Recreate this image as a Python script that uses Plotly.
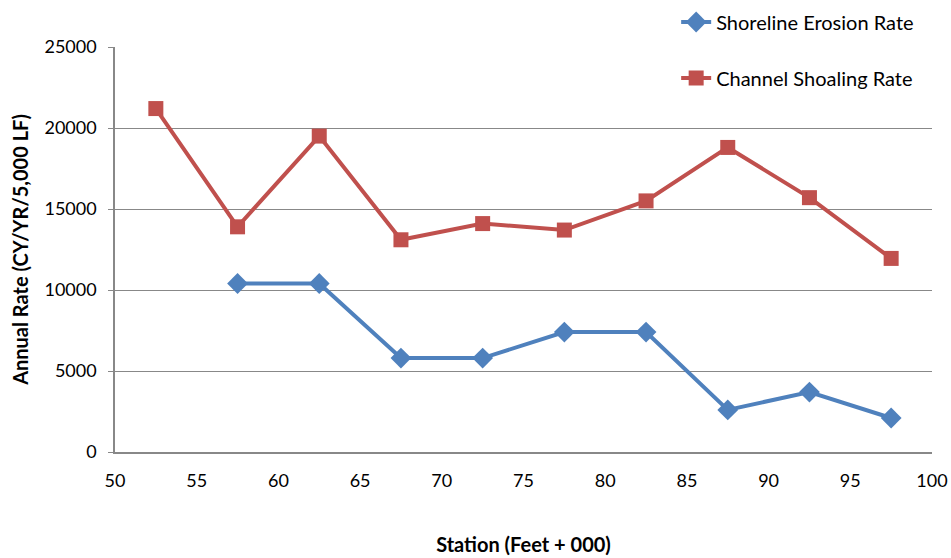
import plotly.graph_objects as go

stations = [52.5, 57.5, 62.5, 67.5, 72.5, 77.5, 82.5, 87.5, 92.5, 97.5]
shoaling = [21200, 13900, 19500, 13100, 14100, 13700, 15500, 18800, 15700, 11950]
erosion_x = [57.5, 62.5, 67.5, 72.5, 77.5, 82.5, 87.5, 92.5, 97.5]
erosion = [10400, 10400, 5800, 5800, 7400, 7400, 2600, 3700, 2100]

FONT = "Lato, Open Sans, Arial"

fig = go.Figure()
fig.add_trace(go.Scatter(x=erosion_x, y=erosion, mode="lines+markers",
                         name="Shoreline Erosion Rate",
                         line=dict(color="#4F81BD", width=4),
                         marker=dict(symbol="diamond", size=16, color="#4F81BD"),
                         legend="legend", showlegend=True))
fig.add_trace(go.Scatter(x=stations, y=shoaling, mode="lines+markers",
                         name="Channel Shoaling Rate",
                         line=dict(color="#C0504D", width=4),
                         marker=dict(symbol="square", size=15, color="#C0504D"),
                         legend="legend2", showlegend=True))

fig.update_layout(
    width=951, height=558, showlegend=True,
    margin=dict(l=115, r=19, t=47, b=106, autoexpand=False),
    paper_bgcolor="white", plot_bgcolor="white",
    font=dict(family=FONT, size=18, color="#000"),
    legend=dict(xref="container", yref="container", x=0.711, xanchor="left",
                y=1 - 22 / 558, yanchor="middle",
                bgcolor="rgba(0,0,0,0)", font=dict(size=20, family=FONT)),
    legend2=dict(xref="container", yref="container", x=0.711, xanchor="left",
                 y=1 - 78 / 558, yanchor="middle",
                 bgcolor="rgba(0,0,0,0)", font=dict(size=20, family=FONT)),
    xaxis=dict(range=[50, 100], dtick=5, tick0=50, showgrid=False,
               showline=True, linecolor="#888", linewidth=1.5,
               ticks="", ticklabelstandoff=12, zeroline=False, automargin=False,
               title=dict(text="<b>Station (Feet + 000)</b>", standoff=48,
                          font=dict(size=20, family=FONT))),
    yaxis=dict(range=[0, 25000], dtick=5000, showgrid=True, tickformat="d",
               gridcolor="#888", gridwidth=1.2, zeroline=False, automargin=False,
               showline=True, linecolor="#888", linewidth=1.5,
               ticks="outside", ticklen=5, tickcolor="#888", ticklabelstandoff=8,
               title=dict(text="<b>Annual Rate (CY/YR/5,000 LF)</b>", standoff=10,
                          font=dict(size=20, family=FONT))),
)

fig.write_html("out.html", config={"displayModeBar": False},
               post_script="document.body.style.margin='0';")
